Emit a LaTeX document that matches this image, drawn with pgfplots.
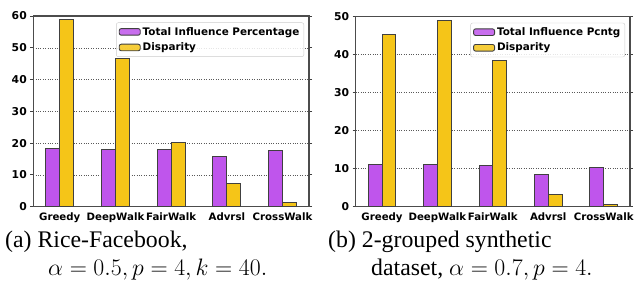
\documentclass[border=0pt]{standalone}
\usepackage{fix-cm}
\usepackage{fontspec}
\setmainfont{Liberation Serif}
\newfontfamily\dejavu{DejaVu Sans}
\usepackage{pgfplots}
\pgfplotsset{compat=1.18}
\definecolor{tipurple}{RGB}{191,85,236}
\definecolor{dispyellow}{RGB}{245,197,24}
\pgfplotsset{
  mybars/.style={
    scale only axis,
    anchor=south west,
    ybar,
    bar width=0.25,
    ymin=0,
    xmin=-0.475, xmax=4.475,
    xtick={0,1,2,3,4},
    xticklabels={Greedy,DeepWalk,FairWalk,Advrsl,CrossWalk},
    xtick style={draw=none},
    ytick style={draw=black!75, line width=0.9pt},
    tick align=outside,
    major tick length=3pt,
    axis line style={draw=black!70, line width=1.1pt},
    ymajorgrids,
    major grid style={dotted, black!65, line width=0.55pt},
    /pgf/number format/assume math mode=true,
    xticklabel style={font=\dejavu\bfseries\fontsize{10.2}{12}\selectfont},
    yticklabel style={font=\dejavu\bfseries\fontsize{10.8}{12}\selectfont},
    legend cell align=left,
    legend image code/.code={\draw[#1, line width=0.9pt] (0pt,-3.3pt) rectangle (21pt,3.3pt);},
    legend style={draw=black!20, rounded corners=2pt, fill=white, fill opacity=0.85, text opacity=1,
      font=\dejavu\bfseries\fontsize{10.4}{12}\selectfont, inner xsep=2.5pt, inner ysep=2.5pt,
      row sep=2.2pt, anchor=north east},
    every axis plot/.append style={draw=black!75, line width=0.9pt},
  }
}
\begin{document}
\begin{tikzpicture}[x=1pt,y=1pt]
\useasboundingbox (0,0) rectangle (642,281);
\begin{axis}[mybars, at={(33.3pt,74.3pt)}, width=275.7pt, height=190.7pt,
  ymax=60, ytick={0,10,20,30,40,50,60},
  legend style={at={(0.982,0.966)}}]
\addplot[fill=tipurple, bar shift=-0.125] coordinates {(0,18.2) (1,18.0) (2,18.0) (3,15.8) (4,17.7)};
\addplot[fill=dispyellow, bar shift=0.125] coordinates {(0,59.0) (1,46.6) (2,20.1) (3,7.3) (4,1.4)};
\legend{Total Influence Percentage, Disparity}
\end{axis}
\begin{axis}[mybars, at={(355.7pt,74.3pt)}, width=274.3pt, height=190pt,
  ymax=50, ytick={0,10,20,30,40,50},
  legend style={at={(0.982,0.968)}}]
\addplot[fill=tipurple, bar shift=-0.125] coordinates {(0,11.2) (1,11.0) (2,10.9) (3,8.6) (4,10.3)};
\addplot[fill=dispyellow, bar shift=0.125] coordinates {(0,45.4) (1,48.9) (2,38.4) (3,3.1) (4,0.6)};
\legend{Total Influence Pcntg, Disparity}
\end{axis}
\tikzset{mycap/.style={anchor=base west, inner sep=0pt, font=\fontsize{23.8}{28}\selectfont}}
\node[mycap] at (5,33.5) {(a) Rice-Facebook,};
\node[mycap] at (48,6) {$\alpha=0.5, p=4, k=40.$};
\node[mycap] at (328,33.5) {(b) 2-grouped synthetic};
\node[mycap] at (371,6) {dataset, $\alpha=0.7, p=4.$};
\end{tikzpicture}
\end{document}
